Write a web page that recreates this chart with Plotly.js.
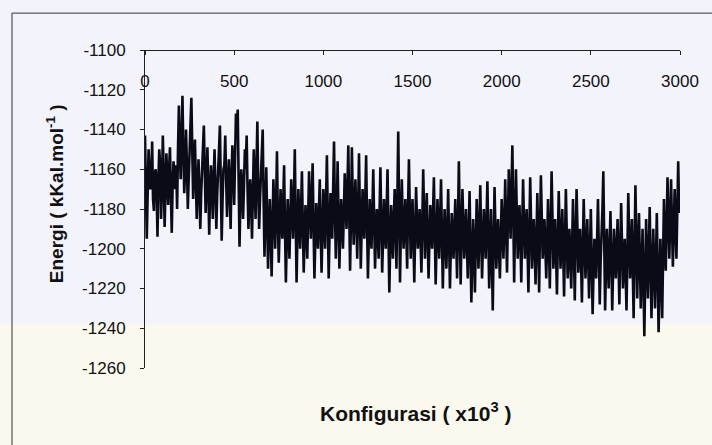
<!DOCTYPE html>
<html>
<head>
<meta charset="utf-8">
<script src="https://cdn.plot.ly/plotly-3.0.1.min.js"></script>
<style>
  html, body { margin: 0; padding: 0; background: #f3f3fb; }
  #chart { width: 712px; height: 445px; }
</style>
</head>
<body>
<div id="chart"></div>
<script>
// x step of the sampled configurations (units of 10^3)
const xStep = 5;
// Energy peaks/troughs (kKal/mol), at x = 0, 10, 20 ... 2990
const energi = [
  -1143, -1195, -1150, -1170, -1146, -1181, -1160, -1194, -1150, -1185,
  -1143, -1189, -1152, -1178, -1149, -1192, -1156, -1170, -1180, -1128,
  -1165, -1123, -1172, -1140, -1180, -1150, -1124, -1175, -1145, -1185,
  -1155, -1190, -1160, -1138, -1182, -1149, -1193, -1158, -1185, -1150,
  -1190, -1155, -1138, -1196, -1160, -1143, -1184, -1155, -1190, -1148,
  -1178, -1132, -1130, -1199, -1160, -1185, -1150, -1143, -1190, -1165,
  -1195, -1150, -1185, -1136, -1190, -1160, -1140, -1204, -1159, -1210,
  -1175, -1214, -1165, -1200, -1151, -1207, -1170, -1195, -1158, -1217,
  -1175, -1205, -1165, -1195, -1150, -1217, -1170, -1200, -1161, -1212,
  -1178, -1205, -1161, -1195, -1157, -1215, -1177, -1200, -1165, -1212,
  -1170, -1200, -1153, -1215, -1172, -1195, -1146, -1205, -1156, -1210,
  -1175, -1200, -1162, -1190, -1148, -1211, -1149, -1198, -1165, -1205,
  -1152, -1210, -1170, -1195, -1153, -1215, -1175, -1200, -1160, -1210,
  -1180, -1205, -1159, -1212, -1175, -1200, -1160, -1222, -1178, -1205,
  -1170, -1210, -1141, -1217, -1165, -1200, -1175, -1210, -1155, -1205,
  -1175, -1217, -1169, -1200, -1180, -1212, -1160, -1205, -1172, -1215,
  -1178, -1200, -1164, -1218, -1175, -1205, -1165, -1220, -1180, -1210,
  -1170, -1220, -1182, -1205, -1175, -1215, -1156, -1218, -1170, -1205,
  -1180, -1215, -1171, -1227, -1185, -1222, -1175, -1210, -1168, -1215,
  -1180, -1205, -1166, -1220, -1180, -1231, -1169, -1210, -1185, -1215,
  -1175, -1205, -1165, -1212, -1160, -1195, -1148, -1217, -1160, -1205,
  -1178, -1217, -1165, -1205, -1180, -1222, -1164, -1210, -1185, -1218,
  -1172, -1222, -1163, -1205, -1185, -1215, -1175, -1220, -1161, -1210,
  -1185, -1223, -1171, -1210, -1180, -1224, -1170, -1215, -1190, -1220,
  -1175, -1226, -1170, -1212, -1190, -1227, -1175, -1215, -1185, -1225,
  -1180, -1233, -1195, -1215, -1175, -1228, -1185, -1161, -1231, -1190,
  -1220, -1181, -1231, -1190, -1215, -1185, -1228, -1177, -1220, -1195,
  -1231, -1172, -1215, -1185, -1235, -1168, -1225, -1182, -1230, -1190,
  -1244, -1185, -1225, -1179, -1235, -1190, -1230, -1182, -1242, -1195,
  -1235, -1175, -1211, -1164, -1205, -1165, -1209, -1170, -1205, -1156
];
// Energy of the dense core, at x = 5, 15, 25 ... 2995
const energiMid = [
  -1165, -1172, -1160, -1168, -1175, -1162, -1170, -1165, -1158, -1170,
  -1162, -1170, -1165, -1160, -1172, -1168, -1163, -1158, -1150, -1150,
  -1145, -1150, -1160, -1158, -1165, -1140, -1150, -1160, -1165, -1168,
  -1170, -1172, -1150, -1160, -1165, -1170, -1172, -1168, -1165, -1170,
  -1172, -1150, -1165, -1175, -1158, -1165, -1170, -1168, -1165, -1160,
  -1155, -1140, -1165, -1175, -1170, -1168, -1160, -1170, -1175, -1178,
  -1172, -1168, -1160, -1170, -1175, -1155, -1175, -1182, -1185, -1190,
  -1192, -1188, -1182, -1178, -1185, -1190, -1183, -1176, -1190, -1195,
  -1190, -1185, -1180, -1175, -1185, -1192, -1186, -1180, -1188, -1194,
  -1190, -1183, -1178, -1175, -1188, -1196, -1188, -1182, -1190, -1192,
  -1185, -1176, -1184, -1192, -1183, -1170, -1180, -1186, -1182, -1190,
  -1188, -1182, -1176, -1170, -1180, -1185, -1175, -1182, -1186, -1180,
  -1182, -1190, -1184, -1175, -1186, -1195, -1188, -1180, -1186, -1194,
  -1192, -1182, -1186, -1194, -1188, -1180, -1192, -1198, -1190, -1185,
  -1190, -1175, -1180, -1190, -1184, -1188, -1192, -1180, -1182, -1188,
  -1195, -1192, -1185, -1190, -1196, -1186, -1182, -1188, -1194, -1196,
  -1190, -1182, -1192, -1196, -1190, -1185, -1192, -1198, -1194, -1190,
  -1195, -1200, -1192, -1190, -1196, -1186, -1188, -1194, -1188, -1192,
  -1198, -1192, -1200, -1205, -1202, -1196, -1192, -1190, -1194, -1198,
  -1192, -1186, -1194, -1200, -1205, -1198, -1190, -1196, -1200, -1195,
  -1190, -1186, -1190, -1185, -1178, -1170, -1182, -1188, -1182, -1190,
  -1196, -1190, -1186, -1192, -1200, -1192, -1188, -1196, -1200, -1195,
  -1196, -1190, -1184, -1194, -1200, -1196, -1198, -1190, -1185, -1196,
  -1204, -1196, -1190, -1196, -1202, -1196, -1192, -1204, -1206, -1198,
  -1200, -1196, -1190, -1200, -1206, -1200, -1195, -1200, -1205, -1202,
  -1206, -1212, -1205, -1196, -1200, -1206, -1180, -1195, -1210, -1205,
  -1200, -1205, -1210, -1202, -1200, -1206, -1200, -1198, -1208, -1212,
  -1202, -1194, -1200, -1210, -1200, -1196, -1204, -1206, -1210, -1215,
  -1214, -1205, -1202, -1208, -1212, -1210, -1206, -1212, -1218, -1214,
  -1205, -1195, -1188, -1186, -1185, -1188, -1190, -1188, -1180, -1182
];

// Build the series in sample order: peak/trough value, then core value
const konfigurasi = [];
const energiSeries = [];
energi.forEach((v, i) => {
  konfigurasi.push(2 * i * xStep);
  energiSeries.push(v);
  konfigurasi.push((2 * i + 1) * xStep);
  energiSeries.push(energiMid[i]);
});

const xTickVals = [0, 500, 1000, 1500, 2000, 2500, 3000];
const xTickText = ['0', '500', '1000', '1500', '2000', '2500', '3000'];
const yTickVals = [-1100, -1120, -1140, -1160, -1180, -1200, -1220, -1240, -1260];
const yTickText = ['-1100', '-1120', '-1140', '-1160', '-1180', '-1200', '-1220', '-1240', '-1260'];

const xTitle = 'Konfigurasi ( x10<sup>3</sup> )';
const yTitle = 'Energi ( kKal.mol<sup>-1</sup> )';

const trace = {
  x: konfigurasi,
  y: energiSeries,
  type: 'scatter',
  mode: 'lines',
  line: { color: '#0b0b18', width: 2.6 },
  hoverinfo: 'x+y'
};

const layout = {
  width: 712,
  height: 445,
  margin: { l: 145, r: 32, t: 50, b: 77 },
  paper_bgcolor: '#f3f3fb',
  plot_bgcolor: 'rgba(0,0,0,0)',
  showlegend: false,
  font: { family: 'Liberation Sans, Arial, sans-serif', color: '#111' },
  xaxis: {
    range: [0, 3000],
    anchor: 'free',
    position: 1,
    side: 'bottom',
    tickvals: xTickVals,
    ticktext: xTickText,
    ticks: 'outside',
    ticklen: 4,
    tickcolor: '#222',
    showline: true,
    linecolor: '#222',
    linewidth: 1,
    showgrid: false,
    zeroline: false,
    ticklabelstandoff: 12,
    tickfont: { size: 17, color: '#111' }
  },
  yaxis: {
    range: [-1260, -1100],
    tickvals: yTickVals,
    ticktext: yTickText,
    ticks: 'outside',
    ticklen: 4,
    tickcolor: '#222',
    showline: true,
    linecolor: '#222',
    linewidth: 1,
    showgrid: false,
    zeroline: false,
    ticklabelstandoff: 11,
    tickfont: { size: 17, color: '#111' }
  },
  shapes: [
    { type: 'rect', xref: 'paper', yref: 'paper', layer: 'below',
      x0: -0.3, x1: 1.1, y0: -0.3, y1: 0.14,
      fillcolor: '#fbf9ee', line: { width: 0 } },
    { type: 'rect', xref: 'paper', yref: 'paper',
      x0: -0.2486, x1: 1.08, y0: -0.27, y1: 1.116,
      fillcolor: 'rgba(0,0,0,0)', line: { color: '#333', width: 1 } }
  ],
  annotations: [
    { text: xTitle, xref: 'paper', yref: 'paper', x: 0.505, y: -0.138,
      showarrow: false, xanchor: 'center', yanchor: 'middle',
      font: { size: 21, weight: 'bold', color: '#111' } },
    { text: yTitle, xref: 'paper', yref: 'paper', x: -0.168, y: 0.547,
      showarrow: false, textangle: -90, xanchor: 'center', yanchor: 'middle',
      font: { size: 19, weight: 'bold', color: '#111' } }
  ]
};

Plotly.newPlot('chart', [trace], layout, { staticPlot: true, displayModeBar: false });
</script>
</body>
</html>
